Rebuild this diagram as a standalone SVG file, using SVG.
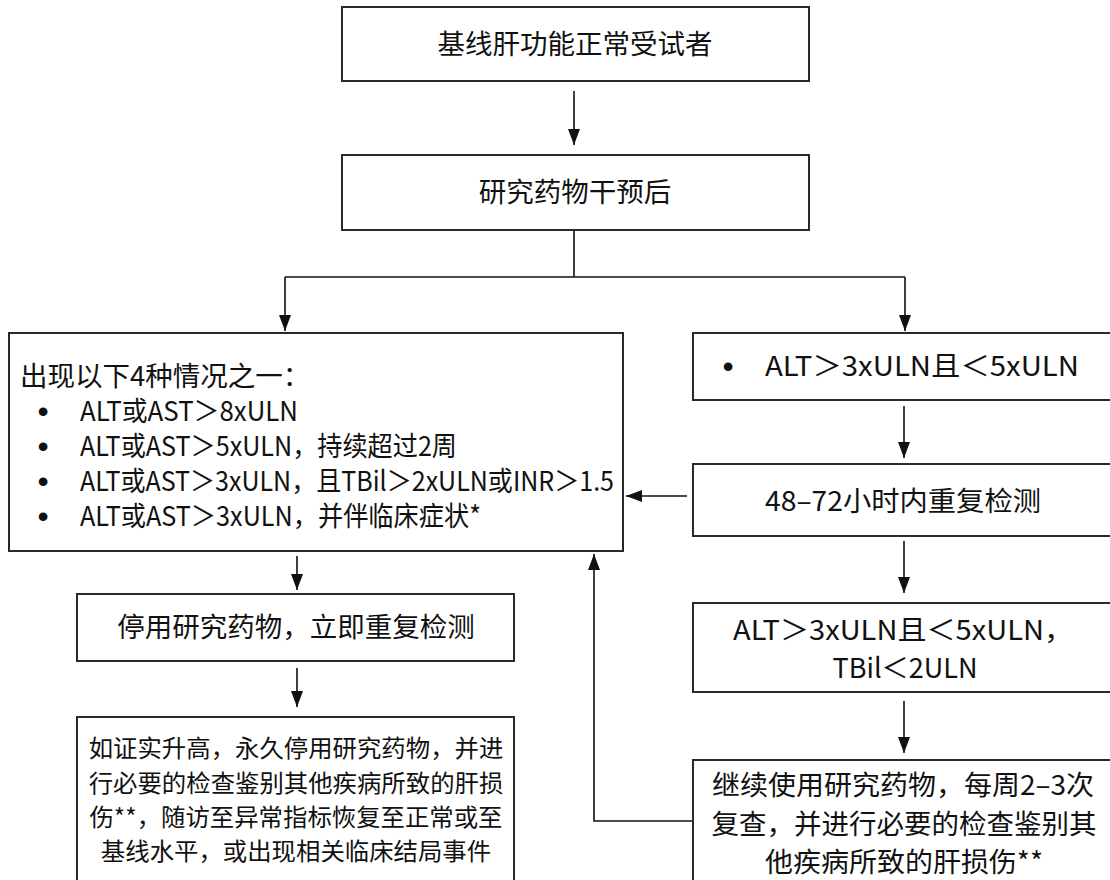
<svg xmlns="http://www.w3.org/2000/svg" width="1110" height="880" viewBox="0 0 1110 880">
<style>
.box{fill:#fff;stroke:#2a2a2a;stroke-width:2}
.t{font-family:"Noto Sans CJK SC","Liberation Sans",sans-serif;font-size:27.5px;fill:#111}
.s{font-size:24.4px}
.c{text-anchor:middle}
.b{font-family:"Liberation Sans",Arial,sans-serif;font-size:32px;fill:#111;text-anchor:middle}
.ln{fill:none;stroke:#111;stroke-width:1.6}
</style>
<defs>
<marker id="ah" viewBox="0 0 16 12" refX="16" refY="6" markerWidth="16" markerHeight="12" markerUnits="userSpaceOnUse" orient="auto">
<path d="M0,0 L16,6 L0,12 Z" fill="#111"/>
</marker>
</defs>
<rect width="1110" height="880" fill="#fff"/>
<g id="connectors">
<line class="ln" x1="574" y1="91" x2="574" y2="145" marker-end="url(#ah)"/>
<polyline class="ln" points="574,230 574,277"/>
<polyline class="ln" points="285,277 905,277"/>
<line class="ln" x1="285" y1="277" x2="285" y2="331" marker-end="url(#ah)"/>
<line class="ln" x1="905" y1="277" x2="905" y2="331" marker-end="url(#ah)"/>
<line class="ln" x1="904" y1="406" x2="904" y2="458" marker-end="url(#ah)"/>
<line class="ln" x1="904" y1="541" x2="904" y2="593" marker-end="url(#ah)"/>
<line class="ln" x1="904" y1="701" x2="904" y2="753" marker-end="url(#ah)"/>
<line class="ln" x1="687" y1="496" x2="626" y2="496" marker-end="url(#ah)"/>
<line class="ln" x1="297" y1="556" x2="297" y2="590" marker-end="url(#ah)"/>
<line class="ln" x1="297" y1="668" x2="297" y2="707" marker-end="url(#ah)"/>
<polyline class="ln" points="693,821 594,821 594,554" marker-end="url(#ah)"/>
</g>
<g id="n1">
<rect class="box" x="342" y="7" width="467" height="74"/>
<text class="t c" x="575" y="54">基线肝功能正常受试者</text>
</g>
<g id="n2">
<rect class="box" x="342" y="155" width="467" height="75"/>
<text class="t c" x="575" y="202">研究药物干预后</text>
</g>
<g id="n3">
<rect class="box" x="9" y="333" width="614" height="218"/>
<text class="t" x="20" y="386">出现以下4种情况之一：</text>
<text class="b" x="43" y="422">•</text>
<text class="t" x="80" y="421" textLength="218" lengthAdjust="spacingAndGlyphs">ALT或AST＞8xULN</text>
<text class="b" x="43" y="457">•</text>
<text class="t" x="80" y="456" textLength="377" lengthAdjust="spacingAndGlyphs">ALT或AST＞5xULN，持续超过2周</text>
<text class="b" x="43" y="492">•</text>
<text class="t" x="80" y="491" textLength="534" lengthAdjust="spacingAndGlyphs">ALT或AST＞3xULN，且TBil＞2xULN或INR＞1.5</text>
<text class="b" x="43" y="527">•</text>
<text class="t" x="80" y="526" textLength="401" lengthAdjust="spacingAndGlyphs">ALT或AST＞3xULN，并伴临床症状*</text>
</g>
<g id="n4">
<rect class="box" x="693" y="333" width="420" height="67"/>
<text class="b" x="728" y="377">•</text>
<text class="t" x="765" y="376" textLength="314" lengthAdjust="spacingAndGlyphs">ALT＞3xULN且＜5xULN</text>
</g>
<g id="n5">
<rect class="box" x="693" y="464" width="420" height="72"/>
<text class="t c" x="903" y="511" textLength="276" lengthAdjust="spacingAndGlyphs">48–72小时内重复检测</text>
</g>
<g id="n6">
<rect class="box" x="693" y="603" width="420" height="89"/>
<text class="t" x="733" y="640" textLength="340" lengthAdjust="spacingAndGlyphs">ALT＞3xULN且＜5xULN，</text>
<text class="t c" x="905" y="678" textLength="145" lengthAdjust="spacingAndGlyphs">TBil＜2ULN</text>
</g>
<g id="n7">
<rect class="box" x="693" y="760" width="420" height="130"/>
<text class="t c" x="903" y="795" textLength="382" lengthAdjust="spacingAndGlyphs">继续使用研究药物，每周2–3次</text>
<text class="t c" x="904" y="834">复查，并进行必要的检查鉴别其</text>
<text class="t c" x="904" y="872" textLength="278" lengthAdjust="spacingAndGlyphs">他疾病所致的肝损伤**</text>
</g>
<g id="n8">
<rect class="box" x="77" y="594" width="437" height="67"/>
<text class="t c" x="296" y="637">停用研究药物，立即重复检测</text>
</g>
<g id="n9">
<rect class="box" x="77" y="717" width="437" height="175"/>
<text class="t s c" x="296" y="757">如证实升高，永久停用研究药物，并进</text>
<text class="t s c" x="296" y="792">行必要的检查鉴别其他疾病所致的肝损</text>
<text class="t s c" x="296" y="826">伤**，随访至异常指标恢复至正常或至</text>
<text class="t s c" x="296" y="860">基线水平，或出现相关临床结局事件</text>
</g>
</svg>
